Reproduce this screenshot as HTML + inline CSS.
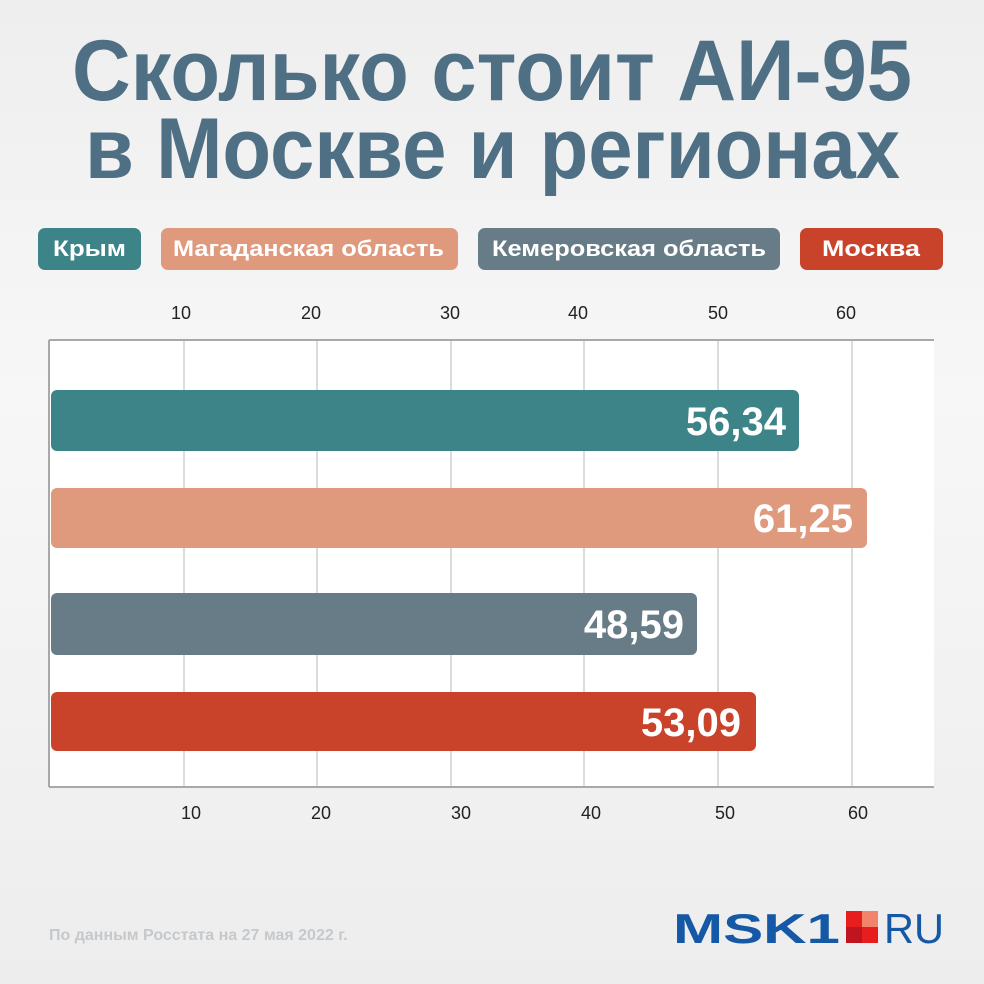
<!DOCTYPE html>
<html><head><meta charset="utf-8"><style>
html,body{margin:0;padding:0;background:#f1f1f1;}
svg{display:block;font-family:"Liberation Sans","DejaVu Sans",sans-serif;}
</style></head><body>
<svg width="984" height="984" viewBox="0 0 984 984" xmlns="http://www.w3.org/2000/svg">
<defs><linearGradient id="bg" x1="0" y1="0" x2="0" y2="1"><stop offset="0" stop-color="#eeeeee"/><stop offset="0.4" stop-color="#f7f7f7"/><stop offset="1" stop-color="#ededed"/></linearGradient></defs>
<rect width="984" height="984" fill="url(#bg)"/>
<g fill="#4f7084" font-weight="bold" font-size="86">
<text x="72" y="100" textLength="840" lengthAdjust="spacingAndGlyphs">Сколько стоит АИ-95</text>
<text x="85" y="178" textLength="815" lengthAdjust="spacingAndGlyphs">в Москве и регионах</text>
</g>
<g font-size="22" font-weight="bold" fill="#fff">
<rect x="38" y="228" width="103" height="42" rx="7" fill="#3d8489"/>
<text x="53" y="256" textLength="73" lengthAdjust="spacingAndGlyphs">Крым</text>
<rect x="161" y="228" width="297" height="42" rx="7" fill="#df997d"/>
<text x="173" y="256" textLength="271" lengthAdjust="spacingAndGlyphs">Магаданская область</text>
<rect x="478" y="228" width="302" height="42" rx="7" fill="#677c87"/>
<text x="492" y="256" textLength="274" lengthAdjust="spacingAndGlyphs">Кемеровская область</text>
<rect x="800" y="228" width="143" height="42" rx="7" fill="#c9432b"/>
<text x="822" y="256" textLength="98" lengthAdjust="spacingAndGlyphs">Москва</text>
</g>
<rect x="49" y="340" width="885" height="447" fill="#fff"/>
<g stroke="#d0d0d0" stroke-width="1.5">
<line x1="184" y1="340" x2="184" y2="787"/><line x1="317" y1="340" x2="317" y2="787"/>
<line x1="451" y1="340" x2="451" y2="787"/><line x1="584" y1="340" x2="584" y2="787"/>
<line x1="718" y1="340" x2="718" y2="787"/><line x1="852" y1="340" x2="852" y2="787"/>
</g>
<line x1="49" y1="340" x2="934" y2="340" stroke="#a8a8a8" stroke-width="2"/>
<line x1="49" y1="787" x2="934" y2="787" stroke="#a8a8a8" stroke-width="2"/>
<line x1="49" y1="340" x2="49" y2="787" stroke="#a8a8a8" stroke-width="2"/>
<g font-size="18" fill="#222" text-anchor="middle">
<text x="181" y="319">10</text><text x="311" y="319">20</text><text x="450" y="319">30</text>
<text x="578" y="319">40</text><text x="718" y="319">50</text><text x="846" y="319">60</text>
<text x="191" y="819">10</text><text x="321" y="819">20</text><text x="461" y="819">30</text>
<text x="591" y="819">40</text><text x="725" y="819">50</text><text x="858" y="819">60</text>
</g>
<rect x="51" y="390" width="748" height="61" rx="6" fill="#3d8489"/>
<rect x="51" y="488" width="816" height="60" rx="6" fill="#df997d"/>
<rect x="51" y="593" width="646" height="62" rx="6" fill="#677c87"/>
<rect x="51" y="692" width="705" height="59" rx="6" fill="#c9432b"/>
<g font-size="40" font-weight="bold" fill="#fff" text-anchor="end">
<text x="786" y="435">56,34</text>
<text x="853" y="532">61,25</text>
<text x="684" y="638">48,59</text>
<text x="741" y="736">53,09</text>
</g>
<text x="49" y="940" font-size="16" font-weight="bold" fill="#c5c9cc">По данным Росстата на 27 мая 2022 г.</text>
<text x="673" y="943" font-size="42" font-weight="900" fill="#1458a6" textLength="167" lengthAdjust="spacingAndGlyphs">MSK1</text>
<rect x="846" y="911" width="16" height="16" fill="#e61e1e"/><rect x="862" y="911" width="16" height="16" fill="#f2846c"/>
<rect x="846" y="927" width="16" height="16" fill="#c0141e"/><rect x="862" y="927" width="16" height="16" fill="#e61e1e"/>
<text x="884" y="943" font-size="42" fill="#1458a6" textLength="60" lengthAdjust="spacingAndGlyphs">RU</text>
</svg>
</body></html>
